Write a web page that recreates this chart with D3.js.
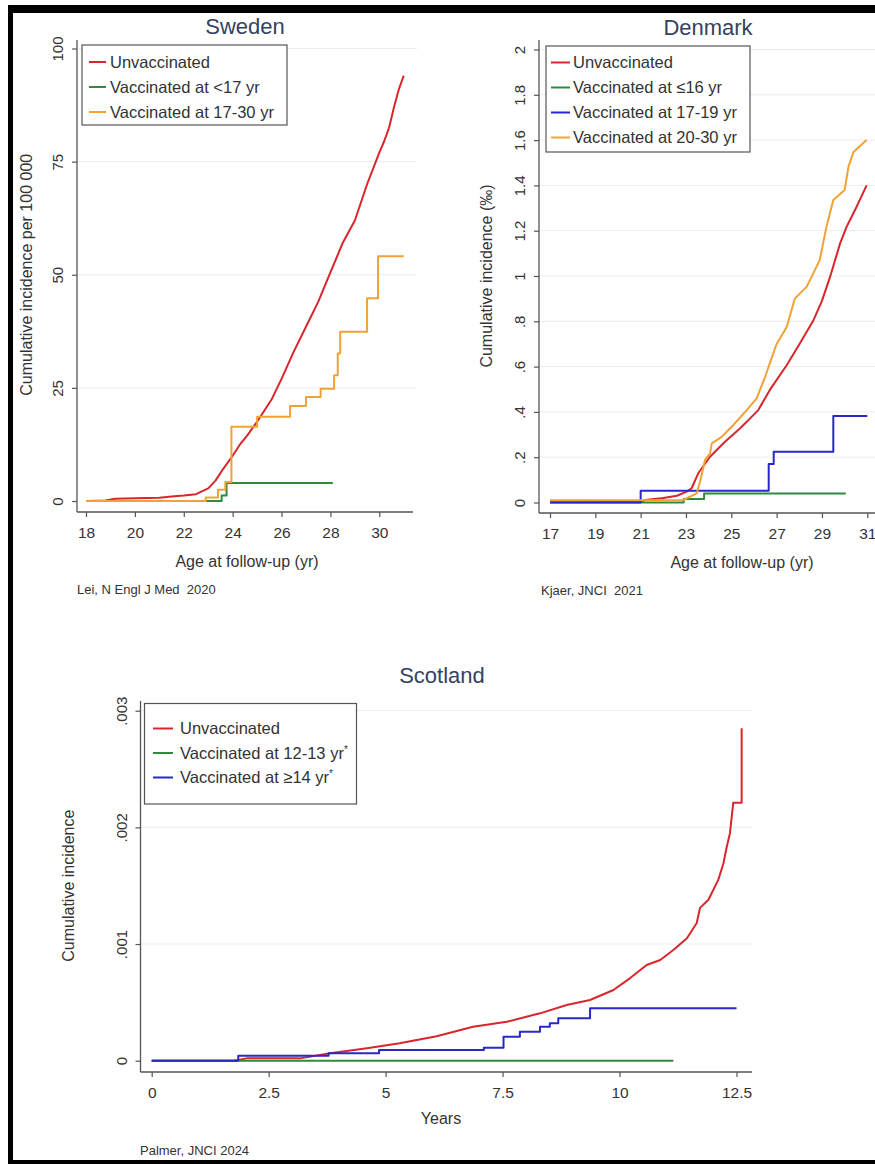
<!DOCTYPE html>
<html>
<head>
<meta charset="utf-8">
<script src="https://cdn.jsdelivr.net/npm/d3@7"></script>
<style>
  body { margin: 0; background: #fff; }
  svg { display: block; font-family: "Liberation Sans", Arial, sans-serif; }
</style>
</head>
<body>
<div id="chart"></div>
<script>
// ---- Sweden (Lei, NEJM 2020) ----
const seXTicks = [18, 20, 22, 24, 26, 28, 30];
const seYTicks = [0, 25, 50, 75, 100];
const seYLabels = ["0", "25", "50", "75", "100"];
const seUnvacc = [[18.0,0],[18.8,0.1],[19.2,0.5],[20,0.6],[21,0.7],[21.5,1.0],[22,1.2],[22.5,1.5],[23,2.8],[23.3,4.5],[23.6,7],[24,10],[24.3,12.5],[24.6,14.5],[25,17.5],[25.3,20],[25.6,22.5],[26,27],[26.5,33],[27,38.5],[27.5,44],[28,50.5],[28.5,57],[29,62],[29.5,70],[30,77],[30.2,79.5],[30.4,82.5],[30.6,87],[30.8,91],[31.0,94]];
const seUnder17 = [[18,0],[23.55,1.2],[23.75,4.0],[28.1,4.0]];
const se17to30 = [[18,0],[22.9,0.8],[23.4,2.5],[23.7,4.2],[23.95,16.4],[25.0,18.6],[26.35,21.0],[27.0,23.0],[27.6,24.8],[28.15,27.8],[28.3,32.6],[28.4,37.4],[29.5,44.8],[29.95,54.1],[31.0,54.1]];

// ---- Denmark (Kjaer, JNCI 2021) ----
const dkXTicks = [17, 19, 21, 23, 25, 27, 29, 31];
const dkYTicks = [0, 0.2, 0.4, 0.6, 0.8, 1, 1.2, 1.4, 1.6, 1.8, 2];
const dkYLabels = ["0", ".2", ".4", ".6", ".8", "1", "1.2", "1.4", "1.6", "1.8", "2"];
const dkUnvacc = [[17,0.005],[21,0.005],[21.3,0.012],[22,0.02],[22.6,0.03],[23.03,0.048],[23.25,0.063],[23.54,0.129],[24.06,0.202],[24.72,0.268],[25.38,0.327],[26.19,0.408],[26.7,0.497],[27.45,0.607],[28.03,0.703],[28.6,0.8],[29.0,0.89],[29.36,0.997],[29.8,1.144],[30.09,1.218],[30.53,1.306],[30.97,1.4]];
const dkUpTo16 = [[17,0],[22.9,0.015],[23.8,0.04],[30.05,0.04]];
const dk17to19 = [[17,0],[21.0,0.052],[26.65,0.17],[26.87,0.224],[29.5,0.382],[31.0,0.382]];
const dk20to30 = [[17,0.01],[22.88,0.011],[23.47,0.04],[23.62,0.092],[23.84,0.188],[24.06,0.217],[24.14,0.261],[24.58,0.29],[25.09,0.342],[25.68,0.408],[26.12,0.46],[26.49,0.555],[27.0,0.7],[27.45,0.776],[27.8,0.9],[28.33,0.953],[28.9,1.07],[29.2,1.218],[29.5,1.336],[30.0,1.38],[30.17,1.483],[30.4,1.549],[30.97,1.6]];

// ---- Scotland (Palmer, JNCI 2024) ----
const scXTicks = [0, 2.5, 5, 7.5, 10, 12.5];
const scXLabels = ["0", "2.5", "5", "7.5", "10", "12.5"];
const scYTicks = [0, 0.001, 0.002, 0.003];
const scYLabels = ["0", ".001", ".002", ".003"];
const scUnvacc = [[0,0],[1.75,0],[2.03,0.00002],[3.17,0.00002],[3.81,0.000063],[4.6,0.000106],[5.3,0.000149],[6.09,0.00021],[6.87,0.000291],[7.59,0.000334],[8.3,0.000406],[8.87,0.000477],[9.37,0.00052],[9.87,0.000606],[10.22,0.000706],[10.58,0.00082],[10.87,0.000863],[11.15,0.000949],[11.44,0.00105],[11.65,0.00118],[11.72,0.00131],[11.9,0.00138],[12.11,0.00155],[12.22,0.00169],[12.29,0.00183],[12.36,0.00195],[12.43,0.00221],[12.61,0.00221],[12.61,0.00285]];
const sc12to13 = [[0,0],[11.15,0]];
const sc14plus = [[0,0],[1.85,0.000043],[3.78,0.000063],[4.86,0.000092],[7.1,0.000112],[7.52,0.000206],[7.87,0.000249],[8.3,0.000291],[8.51,0.00032],[8.69,0.000363],[9.37,0.000449],[12.5,0.000449]];

const COLORS = { red: "#d8262c", green: "#2f8a3c", blue: "#2828c8", orange: "#f0a236" };

const width = 875, height = 1164;
const svg = d3.select("#chart").append("svg")
  .attr("width", width).attr("height", height);

// outer black frame
svg.append("rect").attr("x", 8).attr("y", 5).attr("width", width - 8).attr("height", 8).attr("fill", "#000");
svg.append("rect").attr("x", 8).attr("y", 5).attr("width", 5).attr("height", height - 5).attr("fill", "#000");
svg.append("rect").attr("x", 8).attr("y", 1160).attr("width", width - 8).attr("height", 4).attr("fill", "#000");

const panels = [
  {
    title: "Sweden", titleX: 245, titleY: 34,
    xDomain: [18, 30], xRange: [86, 379.3], xAxisSpan: [77, 413],
    yDomain: [0, 100], yRange: [501, 48.5], yAxisSpan: [40, 512], gridTo: 417,
    xTicks: seXTicks, xLabels: seXTicks.map(String), yTicks: seYTicks, yLabels: seYLabels,
    xTitle: "Age at follow-up (yr)", xTitleX: 247, xTitleY: 567,
    yTitle: "Cumulative incidence per 100 000", yTitleX: 32,
    source: "Lei, N Engl J Med  2020", sourceX: 77, sourceY: 594,
    series: [
      { name: "Unvaccinated", data: seUnvacc, color: COLORS.red, curve: d3.curveLinear },
      { name: "Vaccinated at <17 yr", data: seUnder17, color: COLORS.green, curve: d3.curveStepAfter },
      { name: "Vaccinated at 17-30 yr", data: se17to30, color: COLORS.orange, curve: d3.curveStepAfter }
    ],
    legend: { x: 82, y: 45, w: 205, h: 80, rowY: 62, rowStep: 25, sx: 89, sw: 17, tx: 110 }
  },
  {
    title: "Denmark", titleX: 708, titleY: 35,
    xDomain: [17, 31], xRange: [550, 867.3], xAxisSpan: [539, 880],
    yDomain: [0, 2], yRange: [502.5, 49.5], yAxisSpan: [40, 513], gridTo: 875,
    xTicks: dkXTicks, xLabels: dkXTicks.map(String), yTicks: dkYTicks, yLabels: dkYLabels,
    xTitle: "Age at follow-up (yr)", xTitleX: 742, xTitleY: 568,
    yTitle: "Cumulative incidence (‰)", yTitleX: 492,
    source: "Kjaer, JNCI  2021", sourceX: 541, sourceY: 595,
    series: [
      { name: "Unvaccinated", data: dkUnvacc, color: COLORS.red, curve: d3.curveLinear },
      { name: "Vaccinated at ≤16 yr", data: dkUpTo16, color: COLORS.green, curve: d3.curveStepAfter },
      { name: "Vaccinated at 17-19 yr", data: dk17to19, color: COLORS.blue, curve: d3.curveStepAfter },
      { name: "Vaccinated at 20-30 yr", data: dk20to30, color: COLORS.orange, curve: d3.curveLinear }
    ],
    legend: { x: 546, y: 46, w: 204, h: 106, rowY: 62.5, rowStep: 25, sx: 551, sw: 19, tx: 573 }
  },
  {
    title: "Scotland", titleX: 442, titleY: 683,
    xDomain: [0, 12.5], xRange: [151.7, 736.5], xAxisSpan: [140.5, 752],
    yDomain: [0, 0.003], yRange: [1060.7, 710.7], yAxisSpan: [701, 1072], gridTo: 752,
    xTicks: scXTicks, xLabels: scXLabels, yTicks: scYTicks, yLabels: scYLabels,
    xTitle: "Years", xTitleX: 441, xTitleY: 1124,
    yTitle: "Cumulative incidence", yTitleX: 74,
    source: "Palmer, JNCI 2024", sourceX: 140, sourceY: 1155,
    series: [
      { name: "Unvaccinated", data: scUnvacc, color: COLORS.red, curve: d3.curveLinear },
      { name: "Vaccinated at 12-13 yr", sup: "*", data: sc12to13, color: COLORS.green, curve: d3.curveStepAfter },
      { name: "Vaccinated at ≥14 yr", sup: "*", data: sc14plus, color: COLORS.blue, curve: d3.curveStepAfter }
    ],
    legend: { x: 144.5, y: 703.5, w: 212, h: 100.5, rowY: 728.5, rowStep: 24.5, sx: 153, sw: 20, tx: 180 }
  }
];

panels.forEach(p => drawPanel(p));

function drawPanel(p) {
  const g = svg.append("g");
  const x = d3.scaleLinear().domain(p.xDomain).range(p.xRange);
  const y = d3.scaleLinear().domain(p.yDomain).range(p.yRange);
  const axisX = p.xAxisSpan[0];
  const axisY = p.yAxisSpan[1];

  // grid lines
  g.append("g").selectAll("line")
    .data(p.yTicks.filter(t => t > 0))
    .join("line")
    .attr("x1", axisX).attr("x2", p.gridTo)
    .attr("y1", d => y(d)).attr("y2", d => y(d))
    .attr("stroke", "#ececec").attr("stroke-width", 1);

  // y axis
  const yAxis = d3.axisLeft(y).tickValues(p.yTicks).tickSize(5).tickPadding(0)
    .tickFormat((d, i) => p.yLabels[i]);
  const ya = g.append("g").attr("transform", `translate(${axisX},0)`).call(yAxis);
  ya.select(".domain").remove();
  ya.selectAll(".tick line").attr("stroke", "#555").attr("stroke-width", 1.2);
  ya.selectAll(".tick text")
    .attr("x", null).attr("dy", null)
    .attr("transform", "translate(-14,0) rotate(-90)")
    .attr("text-anchor", "middle")
    .attr("fill", "#333").attr("font-size", 15);
  g.append("line")
    .attr("x1", axisX).attr("x2", axisX)
    .attr("y1", p.yAxisSpan[0]).attr("y2", p.yAxisSpan[1])
    .attr("stroke", "#555").attr("stroke-width", 1.3);

  // x axis
  const xAxis = d3.axisBottom(x).tickValues(p.xTicks).tickSize(5).tickPadding(10)
    .tickFormat((d, i) => p.xLabels[i]);
  const xa = g.append("g").attr("transform", `translate(0,${axisY})`).call(xAxis);
  xa.select(".domain").remove();
  xa.selectAll(".tick line").attr("stroke", "#555").attr("stroke-width", 1.2);
  xa.selectAll(".tick text").attr("fill", "#333").attr("font-size", 15.5);
  g.append("line")
    .attr("x1", p.xAxisSpan[0]).attr("x2", p.xAxisSpan[1])
    .attr("y1", axisY).attr("y2", axisY)
    .attr("stroke", "#555").attr("stroke-width", 1.3);

  // series lines
  p.series.forEach(s => {
    const line = d3.line().x(d => x(d[0])).y(d => y(d[1])).curve(s.curve);
    g.append("path")
      .datum(s.data)
      .attr("d", line)
      .attr("fill", "none")
      .attr("stroke", s.color)
      .attr("stroke-width", 2)
      .attr("stroke-linejoin", "round");
  });

  // titles & texts
  g.append("text").attr("x", p.titleX).attr("y", p.titleY)
    .attr("text-anchor", "middle").attr("font-size", 22).attr("fill", "#34425f")
    .text(p.title);
  g.append("text").attr("x", p.xTitleX).attr("y", p.xTitleY)
    .attr("text-anchor", "middle").attr("font-size", 16).attr("fill", "#333")
    .text(p.xTitle);
  const ymid = (p.yRange[0] + p.yRange[1]) / 2;
  g.append("text")
    .attr("transform", `translate(${p.yTitleX},${ymid}) rotate(-90)`)
    .attr("text-anchor", "middle").attr("font-size", 16).attr("fill", "#333")
    .text(p.yTitle);
  g.append("text").attr("x", p.sourceX).attr("y", p.sourceY)
    .attr("font-size", 13).attr("fill", "#333")
    .style("white-space", "pre")
    .text(p.source);

  // legend
  const L = p.legend;
  const lg = g.append("g");
  lg.append("rect").attr("x", L.x).attr("y", L.y).attr("width", L.w).attr("height", L.h)
    .attr("fill", "#fff").attr("stroke", "#555").attr("stroke-width", 1.2);
  p.series.forEach((s, i) => {
    const ry = L.rowY + i * L.rowStep;
    lg.append("line").attr("x1", L.sx).attr("x2", L.sx + L.sw)
      .attr("y1", ry).attr("y2", ry)
      .attr("stroke", s.color).attr("stroke-width", 2);
    const t = lg.append("text").attr("x", L.tx).attr("y", ry + 5.5)
      .attr("font-size", 16.5).attr("fill", "#333").text(s.name);
    if (s.sup) t.append("tspan").attr("font-size", 10).attr("dy", -6).text(s.sup);
  });
}
</script>
</body>
</html>
